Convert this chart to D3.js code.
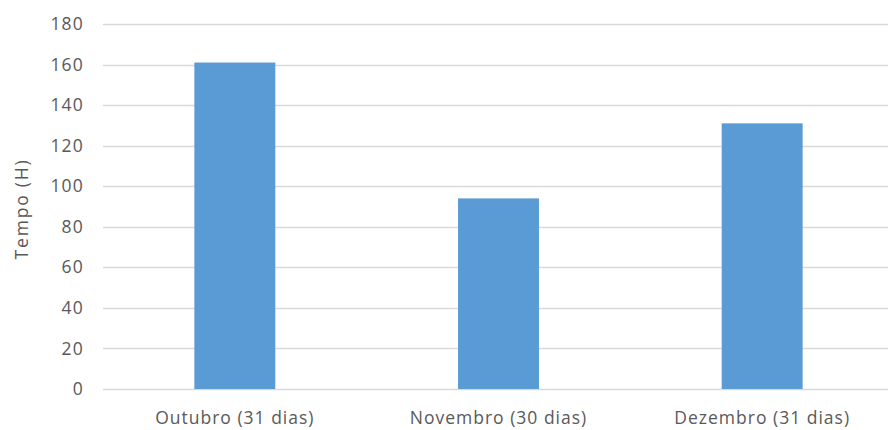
<!DOCTYPE html>
<html>
<head>
<meta charset="utf-8">
<script src="https://cdn.jsdelivr.net/npm/d3@7"></script>
<style>
  html, body { margin: 0; padding: 0; background: #fff; }
  svg text { font-family: "Open Sans", "Segoe UI", sans-serif; fill: #595959; }
</style>
</head>
<body>
<svg id="chart" width="888" height="430"></svg>
<script>
// Monthly time (hours) per month
const categories = ["Outubro (31 dias)", "Novembro (30 dias)", "Dezembro (31 dias)"];
const hours = [161, 94, 131];
const yTicks = [0, 20, 40, 60, 80, 100, 120, 140, 160, 180];
const yTitle = "Tempo (H)";

const svg = d3.select("#chart");
const margin = { left: 103, right: -6, top: 24, bottom: 41 };
const W = 888, H = 430;
const fontSize = 17.5;

const x = d3.scaleBand()
  .domain(categories)
  .range([margin.left, W - margin.right])
  .paddingInner(0.693)
  .paddingOuter(0.3465);

const y = d3.scaleLinear()
  .domain([0, 180])
  .range([H - margin.bottom, margin.top]);

// horizontal gridlines
svg.append("g")
  .selectAll("line")
  .data(yTicks)
  .join("line")
  .attr("x1", margin.left)
  .attr("x2", W)
  .attr("y1", d => Math.round(y(d)) + 0.5)
  .attr("y2", d => Math.round(y(d)) + 0.5)
  .attr("stroke", "#d9d9d9")
  .attr("stroke-width", 1.5);

// y axis labels
const yAxis = d3.axisLeft(y).tickValues(yTicks).tickSize(0).tickPadding(0);
svg.append("g")
  .attr("transform", `translate(84,0)`)
  .call(yAxis)
  .call(g => g.select(".domain").remove())
  .call(g => g.selectAll("text")
    .attr("font-size", fontSize)
    .attr("letter-spacing", 1.2)
    .style("font-family", "'Open Sans', sans-serif")
    .attr("fill", "#595959"));

// bars
svg.append("g")
  .selectAll("rect")
  .data(hours)
  .join("rect")
  .attr("x", (d, i) => x(categories[i]))
  .attr("width", x.bandwidth())
  .attr("y", d => y(d))
  .attr("height", d => y(0) - y(d))
  .attr("fill", "#5b9bd5");

// x axis labels
const xAxis = d3.axisBottom(x).tickSize(0).tickPadding(0);
svg.append("g")
  .attr("transform", `translate(0,${H - margin.bottom + 23})`)
  .call(xAxis)
  .call(g => g.select(".domain").remove())
  .call(g => g.selectAll("text")
    .attr("font-size", fontSize)
    .attr("letter-spacing", 1)
    .style("font-family", "'Open Sans', sans-serif")
    .attr("fill", "#595959"));

// y axis title
svg.append("text")
  .attr("transform", `translate(28,${209}) rotate(-90)`)
  .attr("text-anchor", "middle")
  .attr("font-size", fontSize)
  .attr("letter-spacing", 1.8)
  .text(yTitle);
</script>
</body>
</html>
